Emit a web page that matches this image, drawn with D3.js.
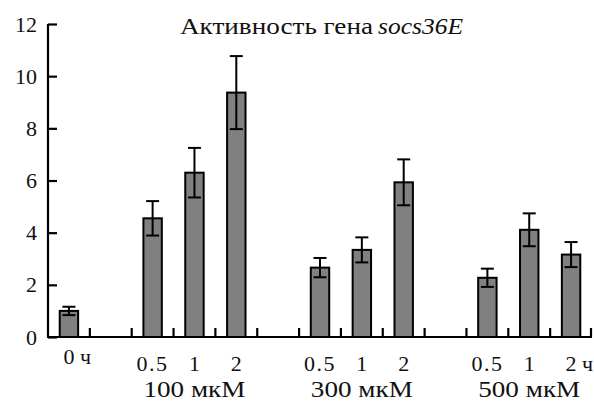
<!DOCTYPE html>
<html>
<head>
<meta charset="utf-8">
<script src="https://cdn.jsdelivr.net/npm/d3@7"></script>
</head>
<body style="margin:0;background:#fff">
<div class="draw"></div>
<script>
// slot labels along the x axis (empty = spacer slot)
var slotLabels = ["0", "", "0.5", "1", "2", "", "0.5", "1", "2", "", "0.5", "1", "2"];
var values = [1.0, null, 4.55, 6.3, 9.37, null, 2.66, 3.34, 5.93, null, 2.27, 4.11, 3.16];
var errors = [0.16, null, 0.66, 0.95, 1.4, null, 0.37, 0.48, 0.88, null, 0.35, 0.63, 0.48];
var groupLabels = ["100 мкМ", "300 мкМ", "500 мкМ"];
var groupSlots = [3, 7, 11];
var yTicks = [0, 2, 4, 6, 8, 10, 12];

var size = { w: 594, h: 401 };
var plot = { left: 48, right: 592, top: 24, bottom: 337 };
var serif = 'Liberation Serif';

var svg = d3.select('.draw').append('svg')
  .attr('width', size.w)
  .attr('height', size.h)
  .style('display', 'block');

var x = d3.scaleBand()
  .domain(d3.range(slotLabels.length))
  .range([plot.left, plot.right])
  .padding(0);
var y = d3.scaleLinear()
  .domain([0, 12])
  .range([plot.bottom, plot.top]);

var barW = x.bandwidth() * 0.44;
var capW = 13;

// bars
var idx = d3.range(values.length).filter(function(i) { return values[i] !== null; });
svg.append('g').selectAll('rect').data(idx).enter().append('rect')
  .attr('x', function(i) { return x(i) + x.bandwidth() / 2 - barW / 2; })
  .attr('y', function(i) { return y(values[i]); })
  .attr('width', barW)
  .attr('height', function(i) { return y(0) - y(values[i]); })
  .attr('fill', '#808080')
  .attr('stroke', '#000')
  .attr('stroke-width', 2);

// error bars
var eb = svg.append('g').attr('stroke', '#000').attr('stroke-width', 2)
  .selectAll('g').data(idx).enter().append('g');
eb.append('line')
  .attr('x1', function(i) { return x(i) + x.bandwidth() / 2; })
  .attr('x2', function(i) { return x(i) + x.bandwidth() / 2; })
  .attr('y1', function(i) { return y(values[i] + errors[i]); })
  .attr('y2', function(i) { return y(values[i] - errors[i]); });
[1, -1].forEach(function(s) {
  eb.append('line')
    .attr('x1', function(i) { return x(i) + x.bandwidth() / 2 - capW / 2; })
    .attr('x2', function(i) { return x(i) + x.bandwidth() / 2 + capW / 2; })
    .attr('y1', function(i) { return y(values[i] + s * errors[i]); })
    .attr('y2', function(i) { return y(values[i] + s * errors[i]); });
});

// y axis
var yAxis = svg.append('g')
  .attr('transform', 'translate(' + plot.left + ',0)')
  .call(d3.axisRight(y).tickValues(yTicks).tickSize(9).tickFormat(''));
yAxis.select('.domain').attr('d', 'M0,' + plot.top + 'V' + plot.bottom);
yAxis.selectAll('line, path').attr('stroke', '#000').attr('stroke-width', 2.2);
svg.append('g').selectAll('text').data(yTicks).enter().append('text')
  .attr('x', 37)
  .attr('y', function(d) { return y(d) + 7.5; })
  .attr('text-anchor', 'end')
  .attr('font-family', serif)
  .attr('font-size', 22)
  .attr('fill', '#111')
  .text(function(d) { return d; });

// x axis with ticks between slots
var bounds = d3.range(1, slotLabels.length + 1).map(function(i) { return plot.left + i * x.bandwidth(); });
var xa = svg.append('g').attr('stroke', '#000').attr('stroke-width', 2.2);
xa.append('line')
  .attr('x1', plot.left - 1).attr('x2', plot.right)
  .attr('y1', plot.bottom).attr('y2', plot.bottom);
xa.selectAll('line.tick').data(bounds).enter().append('line')
  .attr('class', 'tick')
  .attr('x1', function(d) { return Math.min(d, plot.right - 1); })
  .attr('x2', function(d) { return Math.min(d, plot.right - 1); })
  .attr('y1', plot.bottom).attr('y2', plot.bottom - 9);

// slot labels
var lab = svg.append('g').attr('font-family', serif).attr('font-size', 22).attr('fill', '#111');
slotLabels.forEach(function(t, i) {
  if (!t) return;
  var cx = x(i) + x.bandwidth() / 2;
  var yy = i === 0 ? 364 : 371;
  lab.append('text').attr('x', cx).attr('y', yy).attr('text-anchor', 'middle')
    .attr('letter-spacing', t.length > 1 ? 1.5 : 0).text(t);
  if (i === 0 || i === slotLabels.length - 1) {
    lab.append('text').attr('x', cx + 11).attr('y', yy).attr('text-anchor', 'start').text('ч');
  }
});
groupLabels.forEach(function(t, k) {
  lab.append('text')
    .attr('x', x(groupSlots[k]) + x.bandwidth() / 2 - 51)
    .attr('y', 397)
    .attr('font-size', 23)
    .attr('textLength', 102)
    .attr('lengthAdjust', 'spacingAndGlyphs')
    .text(t);
});

// title
var title = svg.append('g')
  .attr('font-family', serif)
  .attr('font-size', 24)
  .attr('fill', '#111');
title.append('text')
  .attr('x', 180).attr('y', 34)
  .attr('textLength', 193)
  .attr('lengthAdjust', 'spacingAndGlyphs')
  .text('Активность гена');
title.append('text')
  .attr('x', 378).attr('y', 34)
  .attr('font-style', 'italic')
  .attr('textLength', 85)
  .attr('lengthAdjust', 'spacingAndGlyphs')
  .text('socs36E');
</script>
</body>
</html>
